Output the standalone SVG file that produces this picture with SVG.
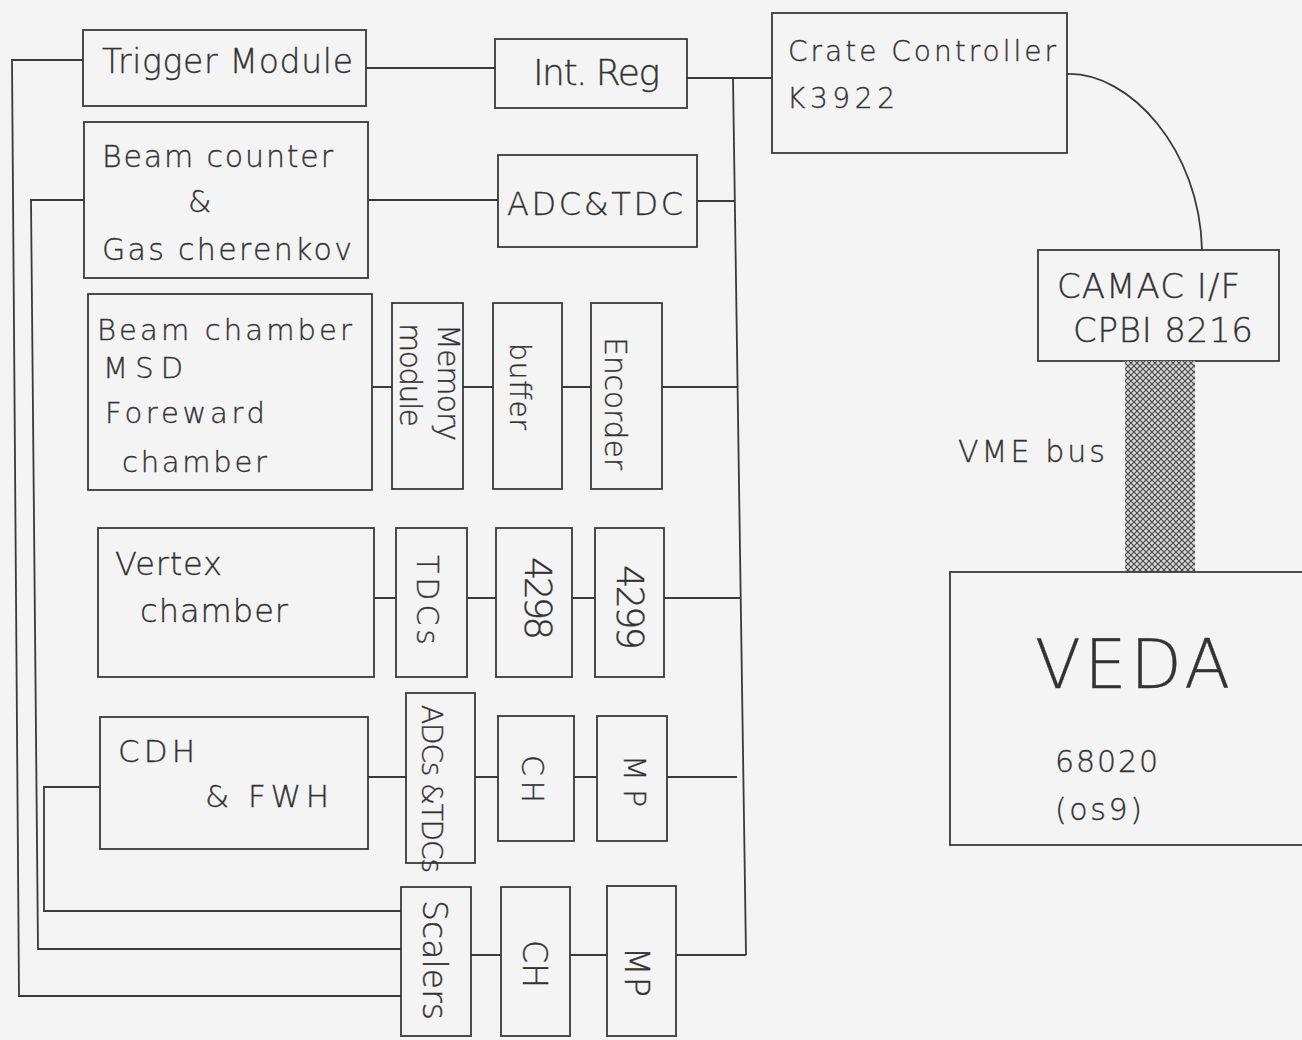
<svg xmlns="http://www.w3.org/2000/svg" width="1302" height="1040" viewBox="0 0 1302 1040">
<style>
.box{fill:none;stroke:#3a3a3a;stroke-width:1.8}
.ln{fill:none;stroke:#3a3a3a;stroke-width:1.8}
.t{font-family:"DejaVu Sans","Liberation Sans",sans-serif;font-weight:200;fill:#333;stroke:#333;stroke-width:0.35}
</style>
<defs>
<pattern id="hatch" width="6" height="6" patternUnits="userSpaceOnUse">
<rect width="6" height="6" fill="#d8d8d8"/>
<path d="M0,0 L6,6 M6,0 L0,6" stroke="#4a4a4a" stroke-width="1.2"/>
</pattern>
</defs>
<rect width="1302" height="1040" fill="#f4f4f4"/>

<g id="connectors">
<path class="ln" d="M83,60 L12,60 L19,996 L401,996"/>
<path class="ln" d="M84,200 L31,200 L38,949 L401,949"/>
<path class="ln" d="M100,787 L44,787 L44,911 L401,911"/>
<path class="ln" d="M366,68 L495,68"/>
<path class="ln" d="M687,78 L772,78"/>
<path class="ln" d="M733,78 L746,955"/>
<path class="ln" d="M368,200 L498,200"/>
<path class="ln" d="M697,201 L735,201"/>
<path class="ln" d="M372,387 L392,387 M463,387 L493,387 M562,387 L591,387 M662,387 L738,387"/>
<path class="ln" d="M374,598 L396,598 M467,598 L496,598 M572,598 L595,598 M664,598 L741,598"/>
<path class="ln" d="M368,777 L406,777 M475,777 L498,777 M574,777 L597,777 M667,777 L737,777"/>
<path class="ln" d="M471,955 L501,955 M570,955 L607,955 M676,955 L746,955"/>
<path class="ln" d="M1067,74 C1130,72 1200,150 1202,250"/>
</g>

<g id="trigger"><rect class="box" x="83" y="30" width="283" height="76"/>
<text class="t" x="102" y="73" font-size="33" textLength="251" lengthAdjust="spacing">Trigger Module</text></g>

<g id="beamcounter"><rect class="box" x="84" y="122" width="284" height="156"/>
<text class="t" x="102" y="167" font-size="30" textLength="231" lengthAdjust="spacing">Beam counter</text>
<text class="t" x="188" y="212" font-size="30">&amp;</text>
<text class="t" x="102" y="260" font-size="30" textLength="250" lengthAdjust="spacing">Gas cherenkov</text></g>

<g id="intreg"><rect class="box" x="495" y="39" width="192" height="69"/>
<text class="t" x="533" y="85" font-size="36" textLength="127" lengthAdjust="spacing">Int. Reg</text></g>

<g id="adctdc"><rect class="box" x="498" y="155" width="199" height="92"/>
<text class="t" x="507" y="215" font-size="32" textLength="176" lengthAdjust="spacing">ADC&amp;TDC</text></g>

<g id="crate"><rect class="box" x="772" y="13" width="295" height="140"/>
<text class="t" x="788" y="61" font-size="28" textLength="268" lengthAdjust="spacing">Crate Controller</text>
<text class="t" x="787" y="108" font-size="28" textLength="108" lengthAdjust="spacing">K3922</text></g>

<g id="camac"><rect class="box" x="1038" y="250" width="241" height="111"/>
<text class="t" x="1057" y="298" font-size="34" textLength="183" lengthAdjust="spacing">CAMAC I/F</text>
<text class="t" x="1073" y="342" font-size="34" textLength="180" lengthAdjust="spacing">CPBI 8216</text></g>

<g id="vmebus"><rect x="1125" y="361" width="70" height="211" fill="url(#hatch)"/>
<text class="t" x="958" y="462" font-size="30" textLength="147" lengthAdjust="spacing">VME bus</text></g>

<g id="veda"><rect class="box" x="950" y="572" width="360" height="273"/>
<text class="t" x="1035" y="688" font-size="67" textLength="195" lengthAdjust="spacing">VEDA</text>
<text class="t" x="1055" y="772" font-size="30" textLength="103" lengthAdjust="spacing">68020</text>
<text class="t" x="1055" y="820" font-size="30" textLength="87" lengthAdjust="spacing">(os9)</text></g>

<g id="beamchamber"><rect class="box" x="88" y="294" width="284" height="196"/>
<text class="t" x="97" y="340" font-size="29" textLength="255" lengthAdjust="spacing">Beam chamber</text>
<text class="t" x="103" y="378" font-size="29" textLength="80" lengthAdjust="spacing">MSD</text>
<text class="t" x="105" y="423" font-size="29" textLength="160" lengthAdjust="spacing">Foreward</text>
<text class="t" x="122" y="472" font-size="29" textLength="145" lengthAdjust="spacing">chamber</text></g>

<g id="memory"><rect class="box" x="392" y="303" width="71" height="186"/>
<text class="t" transform="translate(438,324) rotate(90)" font-size="30" textLength="117" lengthAdjust="spacing">Memory</text>
<text class="t" transform="translate(400,323) rotate(90)" font-size="30" textLength="104" lengthAdjust="spacing">module</text></g>

<g id="buffer"><rect class="box" x="493" y="303" width="69" height="186"/>
<text class="t" transform="translate(510,343) rotate(90)" font-size="28" textLength="87" lengthAdjust="spacing">buffer</text></g>

<g id="encorder"><rect class="box" x="591" y="303" width="71" height="186"/>
<text class="t" transform="translate(605,337) rotate(90)" font-size="30" textLength="133" lengthAdjust="spacing">Encorder</text></g>

<g id="vertex"><rect class="box" x="98" y="528" width="276" height="149"/>
<text class="t" x="115" y="575" font-size="32" textLength="107" lengthAdjust="spacing">Vertex</text>
<text class="t" x="140" y="622" font-size="32" textLength="148" lengthAdjust="spacing">chamber</text></g>

<g id="tdcs"><rect class="box" x="396" y="528" width="71" height="149"/>
<text class="t" transform="translate(417,555) rotate(90)" font-size="30" textLength="90" lengthAdjust="spacing">TDCs</text></g>

<g id="m4298"><rect class="box" x="496" y="528" width="76" height="149"/>
<text class="t" transform="translate(525,557) rotate(90)" font-size="37" textLength="83" lengthAdjust="spacing">4298</text></g>

<g id="m4299"><rect class="box" x="595" y="528" width="69" height="149"/>
<text class="t" transform="translate(617,565) rotate(90)" font-size="37" textLength="85" lengthAdjust="spacing">4299</text></g>

<g id="cdh"><rect class="box" x="100" y="717" width="268" height="132"/>
<text class="t" x="118" y="762" font-size="31" textLength="77" lengthAdjust="spacing">CDH</text>
<text class="t" x="205" y="807" font-size="31" textLength="124" lengthAdjust="spacing">&amp; FWH</text></g>

<g id="adcstdcs"><rect class="box" x="406" y="693" width="69" height="170"/>
<text class="t" transform="translate(422,705) rotate(90)" font-size="28" textLength="168" lengthAdjust="spacing">ADCs &amp;TDCs</text></g>

<g id="ch1"><rect class="box" x="498" y="716" width="76" height="125"/>
<text class="t" transform="translate(522,755) rotate(90)" font-size="30" textLength="48" lengthAdjust="spacing">CH</text></g>

<g id="mp1"><rect class="box" x="597" y="716" width="70" height="125"/>
<text class="t" transform="translate(624,755) rotate(90)" font-size="30" textLength="52" lengthAdjust="spacing">MP</text></g>

<g id="scalers"><rect class="box" x="401" y="887" width="70" height="149"/>
<text class="t" transform="translate(423,900) rotate(90)" font-size="33" textLength="120" lengthAdjust="spacing">Scalers</text></g>

<g id="ch2"><rect class="box" x="501" y="887" width="69" height="149"/>
<text class="t" transform="translate(523,940) rotate(90)" font-size="33" textLength="48" lengthAdjust="spacing">CH</text></g>

<g id="mp2"><rect class="box" x="607" y="886" width="69" height="150"/>
<text class="t" transform="translate(625,947) rotate(90)" font-size="33" textLength="50" lengthAdjust="spacing">MP</text></g>
</svg>
